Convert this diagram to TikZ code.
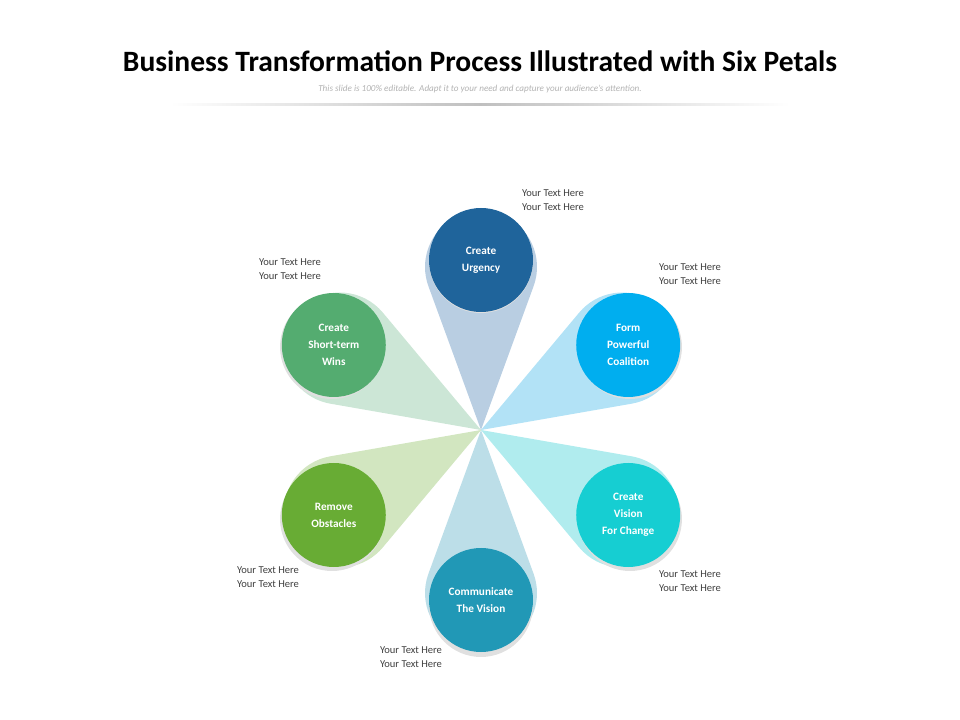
\documentclass[tikz,border=0pt]{standalone}
\usepackage{fontspec}
\setmainfont{Carlito}
\usetikzlibrary{positioning,calc}
\definecolor{urgC}{RGB}{31,100,155}\definecolor{urgP}{RGB}{185,206,226}
\definecolor{coaC}{RGB}{0,174,239}\definecolor{coaP}{RGB}{178,226,246}
\definecolor{visC}{RGB}{22,206,210}\definecolor{visP}{RGB}{176,236,238}
\definecolor{comC}{RGB}{33,152,182}\definecolor{comP}{RGB}{188,222,232}
\definecolor{remC}{RGB}{104,172,52}\definecolor{remP}{RGB}{210,230,192}
\definecolor{winC}{RGB}{84,172,112}\definecolor{winP}{RGB}{204,230,214}
\tikzset{
  stepdot/.style={circle, minimum size=104*0.025cm, inner sep=0pt, fill=#1,
    text=white, align=center, font=\fontsize{8}{12}\selectfont\bfseries},
  note/.style={align=left, text=black!75, font=\fontsize{7.5}{9.5}\selectfont}
}
\begin{document}
\begin{tikzpicture}[x=0.025cm, y=-0.025cm]
  \useasboundingbox (0,0) rectangle (960,720);
  % title
  \node (title) at (480,61) {\fontsize{21}{25}\selectfont\bfseries Business Transformation Process Illustrated with Six Petals};
  \node[text=black!30, font=\fontsize{6.5}{8}\selectfont\itshape] (sub) at (480,89)
    {This slide is 100\% editable. Adapt it to your need and capture your audience's attention.};
  \shade[left color=white, right color=white, middle color=black!25] (170,104) rectangle (790,106);
  % petals
  \coordinate (hub) at (481,430);
  \foreach \ang/\pc in {90/urgP, 30/coaP, -30/visP, -90/comP, -150/remP, 150/winP}{
    \begin{scope}[shift={(hub)}, rotate=\ang]
      \fill[\pc] (0,0) -- ($(163,0)+(110.1:56)$) arc[start angle=110.1, end angle=-110.1, radius=56] -- cycle;
    \end{scope}
  }
  % circles
  \foreach \ang/\cc/\nm/\txt in {90/urgC/urgency/{Create\\Urgency},
      30/coaC/coalition/{Form\\Powerful\\Coalition},
      -30/visC/vision/{Create\\Vision\\For Change},
      -90/comC/communicate/{Communicate\\The Vision},
      -150/remC/remove/{Remove\\Obstacles},
      150/winC/wins/{Create\\Short-term\\Wins}}{
    \fill[black!12] ($(hub)+(-\ang:172)+(0,3)$) circle (52);
    \node[stepdot=\cc] (\nm) at ($(hub)+(-\ang:170)$) {\txt};
  }
  % notes
  \node[note] (n1) at (553,200) {Your Text Here\\Your Text Here};
  \node[note] (n2) at (690,274) {Your Text Here\\Your Text Here};
  \node[note] (n3) at (690,581) {Your Text Here\\Your Text Here};
  \node[note] (n4) at (411,657) {Your Text Here\\Your Text Here};
  \node[note] (n5) at (268,577) {Your Text Here\\Your Text Here};
  \node[note] (n6) at (290,269) {Your Text Here\\Your Text Here};
\end{tikzpicture}
\end{document}
